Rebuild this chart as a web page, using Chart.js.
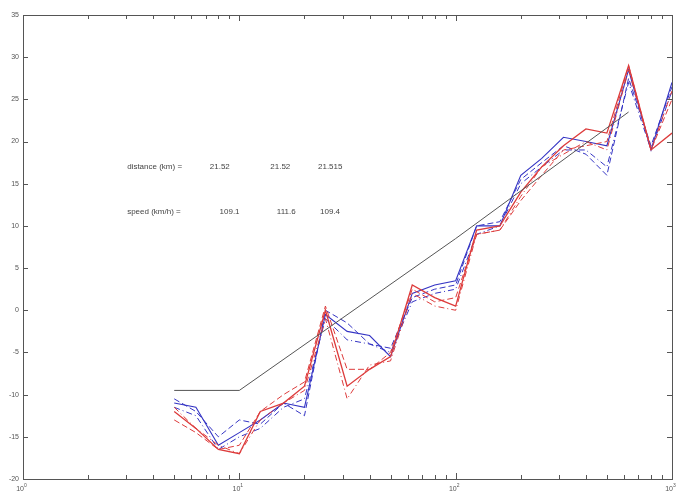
<!DOCTYPE html>
<html>
<head>
<meta charset="utf-8">
<script src="https://cdn.jsdelivr.net/npm/chart.js@4/dist/chart.umd.min.js"></script>
<style>
  html, body { margin: 0; padding: 0; background: #fff; }
  #wrap { width: 680px; height: 493px; position: relative; }
</style>
</head>
<body>
<div id="wrap"><canvas id="bandChart"></canvas></div>
<script>
// third-octave band centres
const bands = [5, 6.3, 8, 10, 12.5, 16, 20, 25, 31.5, 40, 50, 63, 80, 100, 125, 160, 200, 250, 315, 400, 500, 630, 800, 1000];

const redSolid   = [-12, -14, -16.5, -17, -12, -11, -9, 0, -9, -7, -5.5, 3, 1.5, 0.5, 9.5, 10, 14, 17, 19.5, 21.5, 21, 29, 19, 21];
const redDash    = [-13, -14.5, -16.5, -16, -12, -10, -8.5, 0.5, -7, -7, -5, 2.5, 1, 1.5, 9, 9.5, 13, 16, 19, 19.5, 20, 29, 19, 25];
const redDashDot = [-11.5, -14, -16, -17, -13, -11, -9.5, -1, -10.5, -6.5, -6, 2, 0.5, 0, 9, 9.5, 13.5, 17, 18.5, 20, 19, 28.5, 19, 26];
const blueSolid  = [-11, -11.5, -16, -14.5, -13, -11, -11.5, -0.5, -2.5, -3, -5.5, 2, 3, 3.5, 10, 10, 16, 18, 20.5, 20, 19.5, 28.5, 19, 27];
const blueDash   = [-10.5, -12, -15, -13, -13.5, -11, -12.5, 0, -1.5, -4, -4.5, 1.5, 2.5, 3, 10, 10.5, 15.5, 17.5, 19.5, 18.5, 16, 27.5, 19.5, 26.5];
const blueDashDot = [-11.5, -12.5, -16.5, -15, -14, -11.5, -10.5, -1, -3.5, -4, -5, 1, 2, 2.5, 9, 10, 15, 17, 19, 19, 17, 27, 19, 26];

// reference curve
const refX = [5, 10, 100, 630];
const refY = [-9.5, -9.5, 8.5, 23.5];

const yTicks = [35, 30, 25, 20, 15, 10, 5, 0, -5, -10, -15, -20];
const xDecades = [1, 10, 100, 1000];
const xExp = ["0", "1", "2", "3"];

// annotation text, placed in data coordinates
const noteText = ["distance (km) =", "21.52", "21.52", "21.515", "speed (km/h) =", "109.1", "111.6", "109.4"];
const noteX = [3.03, 7.3, 13.9, 23.1, 3.03, 8.1, 14.9, 23.6];
const noteY = [17, 17, 17, 17, 11.7, 11.7, 11.7, 11.7];

const RED = "#dd3b3b";
const BLUE = "#3434c4";

function pts(xs, ys) {
  return xs.map((x, i) => ({ x: x, y: ys[i] }));
}

function line(data, color, dash, width) {
  return {
    data: pts(bands, data),
    borderColor: color,
    borderWidth: width || 1,
    borderDash: dash,
    pointRadius: 0,
    showLine: true,
    fill: false,
    tension: 0
  };
}

// MATLAB-ish axes: box, inward ticks, labels
const axesPlugin = {
  id: "matlabAxes",
  afterDatasetsDraw(chart) {
    const { ctx, chartArea: a, scales } = chart;
    const xs = scales.x, ys = scales.y;
    ctx.save();
    ctx.strokeStyle = "#555";
    ctx.lineWidth = 1;
    ctx.strokeRect(a.left + 0.5, a.top + 0.5, a.right - a.left, a.bottom - a.top);

    ctx.beginPath();
    yTicks.forEach(v => {
      const py = Math.round(ys.getPixelForValue(v)) + 0.5;
      ctx.moveTo(a.left, py); ctx.lineTo(a.left + 5, py);
      ctx.moveTo(a.right, py); ctx.lineTo(a.right - 5, py);
    });
    for (let d = 1; d < 1000; d *= 10) {
      for (let k = 1; k <= 10; k++) {
        const px = Math.round(xs.getPixelForValue(d * k)) + 0.5;
        const len = (k === 1 || k === 10) ? 6 : 4;
        ctx.moveTo(px, a.bottom); ctx.lineTo(px, a.bottom - len);
        ctx.moveTo(px, a.top); ctx.lineTo(px, a.top + len);
      }
    }
    ctx.stroke();

    ctx.fillStyle = "#555";
    ctx.font = "7px Arial, 'Liberation Sans', sans-serif";
    ctx.textAlign = "right";
    ctx.textBaseline = "middle";
    yTicks.forEach(v => {
      ctx.fillText(String(v), a.left - 4, ys.getPixelForValue(v));
    });

    xDecades.forEach((v, i) => {
      const px = xs.getPixelForValue(v);
      ctx.font = "7px Arial, 'Liberation Sans', sans-serif";
      ctx.textAlign = "right";
      ctx.textBaseline = "alphabetic";
      ctx.fillText("10", px + 1, a.bottom + 12);
      ctx.font = "5px Arial, 'Liberation Sans', sans-serif";
      ctx.textAlign = "left";
      ctx.fillText(xExp[i], px + 1, a.bottom + 8);
    });

    ctx.font = "8px Arial, 'Liberation Sans', sans-serif";
    ctx.fillStyle = "#444";
    ctx.textAlign = "left";
    ctx.textBaseline = "middle";
    noteText.forEach((t, i) => {
      ctx.fillText(t, xs.getPixelForValue(noteX[i]), ys.getPixelForValue(noteY[i]));
    });
    ctx.restore();
  }
};

new Chart(document.getElementById("bandChart"), {
  type: "scatter",
  data: {
    datasets: [
      {
        data: pts(refX, refY),
        borderColor: "#555",
        borderWidth: 1,
        pointRadius: 0,
        showLine: true,
        fill: false
      },
      line(redSolid, RED, [], 1.3),
      line(redDash, RED, [6, 3]),
      line(redDashDot, RED, [6, 3, 1, 3]),
      line(blueSolid, BLUE, [], 1.1),
      line(blueDash, BLUE, [6, 3]),
      line(blueDashDot, BLUE, [6, 3, 1, 3])
    ]
  },
  options: {
    responsive: true,
    maintainAspectRatio: false,
    animation: false,
    layout: {
      padding: { left: 23, top: 15, right: 8, bottom: 14 }
    },
    scales: {
      x: {
        type: "logarithmic",
        min: 1,
        max: 1000,
        display: false
      },
      y: {
        min: -20,
        max: 35,
        display: false
      }
    },
    plugins: {
      legend: { display: false },
      tooltip: { enabled: false }
    }
  },
  plugins: [axesPlugin]
});
</script>
</body>
</html>
